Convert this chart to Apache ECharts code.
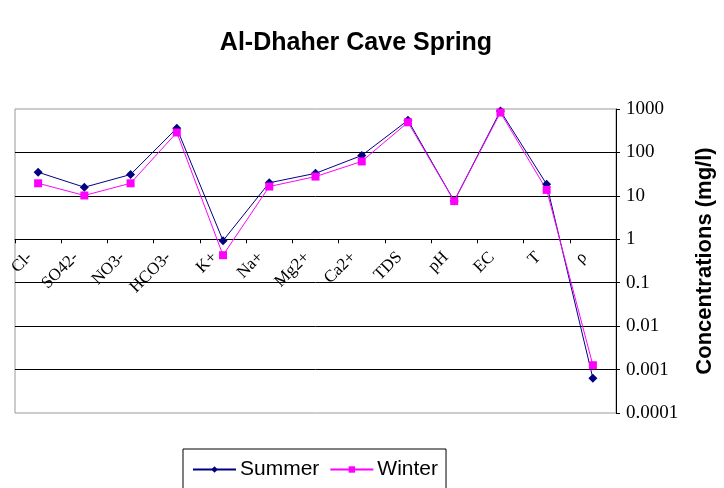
<!DOCTYPE html>
<html>
<head>
<meta charset="utf-8">
<script src="https://cdn.jsdelivr.net/npm/echarts@6/dist/echarts.min.js"></script>
<style>
  html, body { margin: 0; padding: 0; background: #fff; }
  #chart { width: 724px; height: 488px; }
</style>
</head>
<body>
<div id="chart"></div>
<script>
const categories = ['Cl-', 'SO42-', 'NO3-', 'HCO3-', 'K+', 'Na+', 'Mg2+', 'Ca2+', 'TDS', 'pH', 'EC', 'T', 'ρ']
const summer = [35, 15.8, 31, 360, 0.93, 20, 33, 85, 550, 7.6, 900, 18.5, 0.00063]
const winter = [19.5, 10.2, 19.5, 288, 0.43, 16.4, 27.8, 62, 495, 7.6, 830, 13.7, 0.00126]
const yMin = 0.0001
const yMax = 1000

const gridTop = 109
const gridBottom = 75
const gridH = 488 - gridTop - gridBottom
// category axis sits on the y = 1 line
const xOffset = -gridH * (Math.log10(1) - Math.log10(yMin)) / (Math.log10(yMax) - Math.log10(yMin))

const chart = echarts.init(document.getElementById('chart'))

const option = {
  animation: false,
  title: {
    text: 'Al-Dhaher Cave Spring',
    left: 351,
    textAlign: 'center',
    top: 26,
    textStyle: { fontFamily: 'Liberation Sans', fontSize: 25, fontWeight: 'bold', color: '#000' }
  },
  legend: {
    left: 183,
    top: 449,
    padding: [10, 8, 14, 9],
    itemGap: 10,
    itemWidth: 43,
    itemHeight: 8,
    borderColor: '#000',
    borderWidth: 1,
    textStyle: { fontFamily: 'Liberation Sans', fontSize: 21, color: '#000', padding: [0, 0, 0, -1] },
    data: ['Summer', 'Winter']
  },
  grid: {
    left: 15,
    right: 107,
    top: gridTop,
    bottom: gridBottom,
    show: true,
    borderColor: '#999',
    borderWidth: 1
  },
  xAxis: {
    type: 'category',
    data: categories,
    boundaryGap: true,
    offset: xOffset,
    axisLine: { onZero: false, lineStyle: { color: '#000', width: 1 } },
    axisTick: { show: true, length: 4, lineStyle: { color: '#000' } },
    axisLabel: {
      interval: 0,
      rotate: 45,
      margin: 7,
      padding: [0, 12, 0, 0],
      fontFamily: 'Liberation Serif',
      fontSize: 17,
      color: '#000'
    },
    splitLine: { show: false }
  },
  yAxis: {
    type: 'log',
    logBase: 10,
    position: 'right',
    min: yMin,
    max: yMax,
    splitNumber: 7,
    name: 'Concentrations (mg/l)',
    nameLocation: 'middle',
    nameRotate: 90,
    nameGap: 78,
    nameTextStyle: { fontFamily: 'Liberation Sans', fontSize: 22, fontWeight: 'bold', color: '#000' },
    axisLine: { show: true, lineStyle: { color: '#000', width: 1 } },
    axisTick: { show: true, length: 4, lineStyle: { color: '#000' } },
    axisLabel: {
      margin: 10,
      fontFamily: 'Liberation Serif',
      fontSize: 19,
      color: '#000',
      formatter: v => String(Number(v.toPrecision(6)))
    },
    splitLine: { show: true, showMinLine: false, showMaxLine: false, lineStyle: { color: '#000', width: 1 } }
  },
  series: [
    {
      name: 'Summer',
      type: 'line',
      data: summer,
      symbol: 'diamond',
      symbolSize: 9,
      color: '#000080',
      lineStyle: { width: 1, color: '#000080' },
      itemStyle: { color: '#000080' }
    },
    {
      name: 'Winter',
      type: 'line',
      data: winter,
      symbol: 'rect',
      symbolSize: 8,
      color: '#ff00ff',
      lineStyle: { width: 1, color: '#ff00ff' },
      itemStyle: { color: '#ff00ff' }
    }
  ]
}

chart.setOption(option)
</script>
</body>
</html>
